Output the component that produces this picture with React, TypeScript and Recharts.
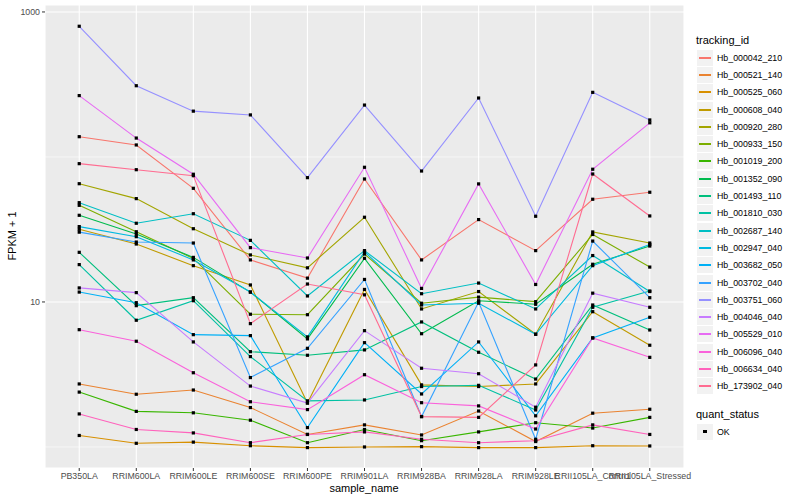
import React from 'react';
import { LineChart, Line, XAxis, YAxis, CartesianGrid } from 'recharts';

const samples = [
  'PB350LA', 'RRIM600LA', 'RRIM600LE', 'RRIM600SE', 'RRIM600PE', 'RRIM901LA',
  'RRIM928BA', 'RRIM928LA', 'RRIM928LE', 'RRII105LA_Control', 'RRII105LA_Stressed',
];

const trackingIds = [
  'Hb_000042_210', 'Hb_000521_140', 'Hb_000525_060', 'Hb_000608_040', 'Hb_000920_280',
  'Hb_000933_150', 'Hb_001019_200', 'Hb_001352_090', 'Hb_001493_110', 'Hb_001810_030',
  'Hb_002687_140', 'Hb_002947_040', 'Hb_003682_050', 'Hb_003702_040', 'Hb_003751_060',
  'Hb_004046_040', 'Hb_005529_010', 'Hb_006096_040', 'Hb_006634_040', 'Hb_173902_040',
];

// ggplot hue palette, 20 levels
const colors = [
  '#F8766D', '#EA8331', '#D89000', '#C09B00', '#A3A500', '#7CAE00', '#39B600', '#00BB4E',
  '#00BF7D', '#00C1A3', '#00BFC4', '#00BAE0', '#00B0F6', '#35A2FF', '#9590FF', '#C77CFF',
  '#E76BF3', '#FA62DB', '#FF62BC', '#FF6C91',
];

// FPKM + 1 per sample
const hb000042 = [138, 121, 60.8, 19.5, 14.6, 70.5, 19.5, 37.0, 22.6, 51.1, 57.1];
const hb000521 = [2.72, 2.31, 2.47, 1.87, 1.22, 1.42, 1.21, 1.77, 1.09, 1.71, 1.82];
const hb000525 = [1.2, 1.06, 1.08, 1.02, 0.99, 1.0, 1.005, 0.99, 0.99, 1.02, 1.016];
const hb000608 = [31.7, 25.1, 17.8, 13.1, 2.01, 12.2, 2.68, 2.61, 2.72, 8.57, 5.03];
const hb000920 = [65.4, 51.6, 32.0, 21.1, 17.2, 38.4, 8.95, 11.8, 5.99, 30.4, 25.5];
const hb000933 = [46.4, 30.5, 19.95, 8.23, 8.17, 21.4, 9.8, 10.8, 10.05, 29.2, 17.4];
const hb001019 = [2.39, 1.76, 1.72, 1.53, 1.07, 1.32, 1.105, 1.27, 1.47, 1.35, 1.6];
const hb001352 = [39.6, 29.4, 20.3, 11.7, 5.56, 20.0, 6.04, 10.2, 9.64, 18.2, 24.3];
const hb001493 = [22.0, 9.43, 10.7, 4.54, 4.29, 4.67, 7.28, 4.5, 2.94, 9.53, 6.41];
const hb001810 = [18.1, 7.48, 10.2, 4.2, 2.08, 2.11, 2.61, 2.66, 1.8, 9.19, 11.9];
const hb002687 = [48.4, 34.9, 40.6, 26.6, 11.0, 22.6, 11.4, 13.5, 8.95, 20.9, 11.8];
const hb002947 = [33.1, 28.2, 19.5, 11.7, 5.74, 22.2, 9.53, 9.8, 5.99, 17.8, 24.9];
const hb003682 = [11.7, 9.89, 5.95, 5.86, 1.36, 5.24, 2.32, 5.3, 1.64, 5.65, 7.84];
const hb003702 = [30.3, 25.9, 25.5, 3.01, 4.79, 14.3, 1.62, 10.0, 1.13, 26.3, 10.7];
const hb003751 = [797, 310, 207, 195, 72.0, 228, 80.0, 255, 39.0, 279, 180];
const hb004046 = [12.5, 11.6, 5.3, 2.63, 2.01, 6.34, 3.49, 3.2, 1.88, 11.5, 9.19];
const hb005529 = [265, 135, 76.0, 23.7, 20.1, 84.9, 12.4, 65.2, 13.2, 82.3, 172];
const hb006096 = [6.44, 5.36, 3.25, 2.05, 1.81, 3.15, 2.02, 1.92, 1.33, 5.65, 4.15];
const hb006634 = [1.69, 1.32, 1.25, 1.07, 1.22, 1.27, 1.13, 1.07, 1.105, 1.42, 1.22];
const hb173902 = [89.9, 81.7, 74.3, 7.09, 13.3, 11.2, 1.62, 1.6, 3.68, 76.3, 39.2];

const seriesValues = [
  hb000042, hb000521, hb000525, hb000608, hb000920, hb000933, hb001019, hb001352, hb001493, hb001810,
  hb002687, hb002947, hb003682, hb003702, hb003751, hb004046, hb005529, hb006096, hb006634, hb173902,
];

const yTicks = [10, 1000];
const yMinor = [1, 100];

const rows = samples.map((s, i) => {
  const r: any = { x: i, sample: s };
  seriesValues.forEach((vals, k) => {
    r['s' + k] = vals[i];
  });
  return r;
});

const font = '"Liberation Sans", Arial, sans-serif';

const squareDot = (p: any) => {
  if (p.cx == null || p.cy == null) return <g key={`d-${p.dataKey}-${p.index}`} />;
  return (
    <rect key={`d-${p.dataKey}-${p.index}`} x={p.cx - 1.6} y={p.cy - 1.6} width={3.2} height={3.2} fill="#000" />
  );
};

const LegendBox = () => (
  <div style={{ position: 'absolute', left: 696, top: 33, fontFamily: font }}>
    <div style={{ fontSize: 11, lineHeight: '14px', color: '#000', marginBottom: 2 }}>tracking_id</div>
    {trackingIds.map((id, i) => (
      <div key={id} style={{ display: 'flex', alignItems: 'center', height: 17.3 }}>
        <div style={{ width: 16, height: 16, background: '#F2F2F2', position: 'relative', marginLeft: 1 }}>
          <div style={{ position: 'absolute', left: 2, right: 2, top: 7, height: 2, background: colors[i] }} />
        </div>
        <span style={{ fontSize: 8.8, marginLeft: 4, color: '#000' }}>{id}</span>
      </div>
    ))}
    <div style={{ fontSize: 11, lineHeight: '14px', color: '#000', marginTop: 12, marginBottom: 2 }}>quant_status</div>
    <div style={{ display: 'flex', alignItems: 'center', height: 17.3 }}>
      <div style={{ width: 16, height: 16, background: '#F2F2F2', position: 'relative', marginLeft: 1 }}>
        <div style={{ position: 'absolute', left: 6.4, top: 6.4, width: 3.2, height: 3.2, background: '#000' }} />
      </div>
      <span style={{ fontSize: 8.8, marginLeft: 4, color: '#000' }}>OK</span>
    </div>
  </div>
);

export default function App() {
  return (
    <div style={{ position: 'absolute', left: 0, top: 0, width: 800, height: 500, background: '#fff', fontFamily: font }}>
      <LineChart width={800} height={500} data={rows} margin={{ top: 5, right: 116, bottom: 0, left: 0 }}>
        <CartesianGrid fill="#EBEBEB" vertical={false} horizontalValues={yMinor} stroke="#fff" strokeWidth={0.55} />
        <CartesianGrid fill="none" stroke="#fff" strokeWidth={1.1} />
        <XAxis
          dataKey="x"
          type="number"
          domain={[-0.6, 10.6]}
          ticks={samples.map((_, i) => i)}
          interval={0}
          tickFormatter={(v: number) => samples[v] ?? ''}
          allowDataOverflow
          axisLine={false}
          tickLine={{ stroke: '#333333' }}
          tickSize={3}
          tickMargin={2}
          height={32}
          tick={{ fill: '#4D4D4D', fontSize: 8.8, fontFamily: font }}
        />
        <YAxis
          scale="log"
          type="number"
          domain={[0.716, 1117]}
          ticks={yTicks}
          allowDataOverflow
          width={45}
          axisLine={false}
          tickLine={{ stroke: '#333333' }}
          tickSize={3}
          tickMargin={2}
          tick={{ fill: '#4D4D4D', fontSize: 8.8, fontFamily: font }}
        />
        {seriesValues.map((_, k) => (
          <Line
            key={trackingIds[k]}
            type="linear"
            dataKey={'s' + k}
            stroke={colors[k]}
            strokeWidth={1.1}
            dot={squareDot}
            activeDot={false}
            isAnimationActive={false}
          />
        ))}
      </LineChart>
      <div
        style={{
          position: 'absolute', left: 12, top: 236, transform: 'translate(-50%, -50%) rotate(-90deg)',
          fontSize: 11, color: '#000', whiteSpace: 'nowrap',
        }}
      >
        FPKM + 1
      </div>
      <div
        style={{
          position: 'absolute', left: 364, top: 488, transform: 'translate(-50%, -50%)',
          fontSize: 11, color: '#000', whiteSpace: 'nowrap',
        }}
      >
        sample_name
      </div>
      <LegendBox />
    </div>
  );
}
